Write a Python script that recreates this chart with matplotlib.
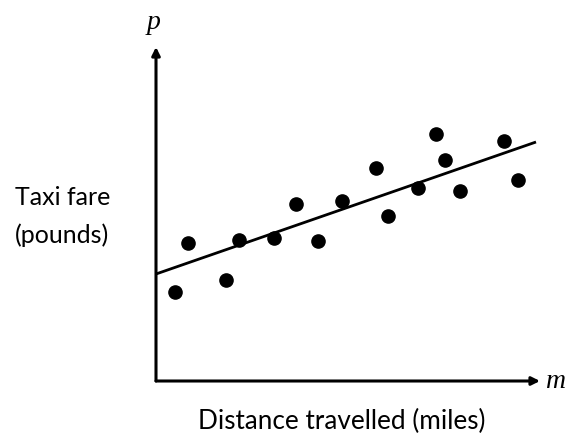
import matplotlib
matplotlib.use("Agg")
import matplotlib.pyplot as plt

# Data (distance m in miles, fare p in pounds; arbitrary units)
distance = [0.95, 1.6, 3.5, 4.15, 5.9, 7.0, 8.1, 9.3, 11.0, 11.6, 13.1, 14.0, 14.45, 15.2, 17.4, 18.1]
fare = [8.9, 13.8, 10.1, 14.1, 14.3, 17.7, 14.0, 18.0, 21.3, 16.5, 19.3, 24.7, 22.1, 19.0, 24.0, 20.1]
line_m = [0.0, 19.0]
line_p = [10.7, 23.9]

fig = plt.figure(figsize=(5.76, 4.33), dpi=100)
ax = fig.add_axes([0, 0, 1, 1])
ax.set_xlim(-7.8, 21.0)
ax.set_ylim(-5.2, 38.1)
ax.axis('off')

# axes arrows
ax.annotate('', xy=(19.2, 0), xytext=(0, 0),
            arrowprops=dict(arrowstyle='-|>', lw=2.2, color='black', mutation_scale=12,
                            shrinkA=0, shrinkB=0))
ax.annotate('', xy=(0, 33.4), xytext=(0, 0),
            arrowprops=dict(arrowstyle='-|>', lw=2.2, color='black', mutation_scale=12,
                            shrinkA=0, shrinkB=0))

ax.plot(line_m, line_p, color='black', lw=2.0, solid_capstyle='butt')
ax.plot(distance, fare, 'o', color='black', markersize=9.5)

ax.text(-0.1, 35.9, 'p', fontsize=20, fontstyle='italic', family='Liberation Serif',
        ha='center', va='center')
ax.text(20.0, 0.0, 'm', fontsize=20, fontstyle='italic', family='Liberation Serif',
        ha='center', va='center')
ax.text(-7.05, 17.6, 'Taxi fare', fontsize=18, family='Lato', ha='left', va='baseline')
ax.text(-7.05, 13.8, '(pounds)', fontsize=18, family='Lato', ha='left', va='baseline')
ax.text(9.3, -4.85, 'Distance travelled (miles)', fontsize=18.8, family='Lato',
        ha='center', va='baseline')

fig.savefig('out.png', dpi=100)
